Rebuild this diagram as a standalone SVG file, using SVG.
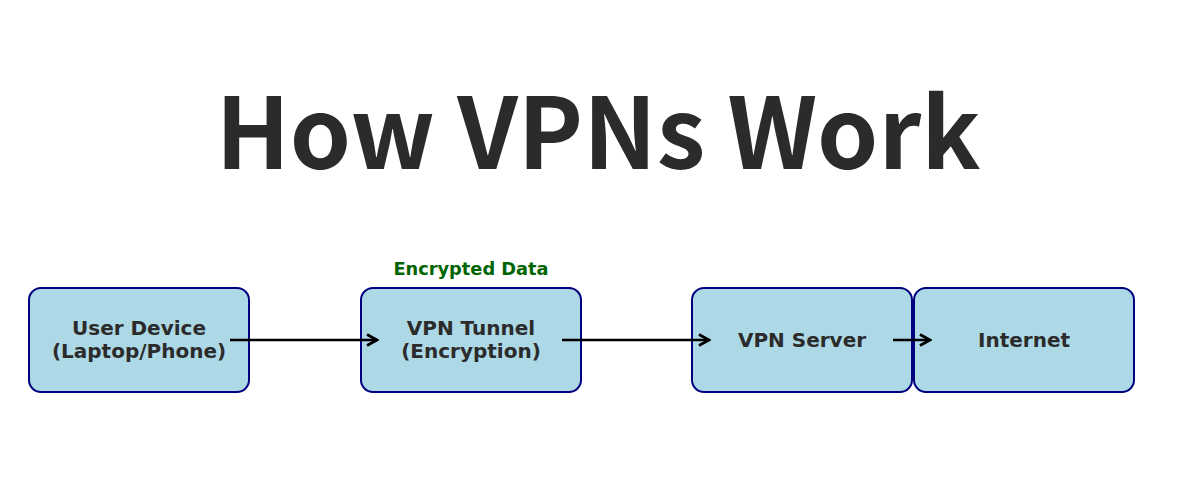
<svg xmlns="http://www.w3.org/2000/svg" width="1200" height="494" viewBox="0 0 1200 494">
<style>
.box{fill:#add8e6;stroke:#000080;stroke-width:2}
.lbl{font-family:"DejaVu Sans",sans-serif;font-weight:bold;font-size:20px;fill:#2b2b2b;text-anchor:middle}
.title{font-family:"Noto Sans CJK JP","Noto Sans",sans-serif;font-weight:bold;font-size:98px;fill:#2b2b2b;text-anchor:middle}
.edge{stroke:#000;stroke-width:2.7;fill:none}
.elbl{font-family:"DejaVu Sans",sans-serif;font-weight:bold;font-size:17.8px;fill:#006400;text-anchor:middle}
</style>
<defs>
<marker id="ah" markerWidth="14" markerHeight="14" refX="12" refY="7" orient="auto" markerUnits="userSpaceOnUse" viewBox="0 0 14 14">
<path d="M2,1.5 L12,7 L2,12.5" fill="none" stroke="#000" stroke-width="2.7"/>
</marker>
</defs>
<rect width="1200" height="494" fill="#fff"/>
<text class="title" x="598" y="169">How VPNs Work</text>
<g id="user-device"><rect class="box" x="29" y="288" width="220" height="104" rx="12"/><text class="lbl" x="139" y="335">User Device</text><text class="lbl" x="139" y="358">(Laptop/Phone)</text></g>
<g id="vpn-tunnel"><rect class="box" x="361" y="288" width="220" height="104" rx="12"/><text class="lbl" x="471" y="335">VPN Tunnel</text><text class="lbl" x="471" y="358">(Encryption)</text></g>
<g id="vpn-server"><rect class="box" x="692" y="288" width="220" height="104" rx="12"/><text class="lbl" x="802" y="347">VPN Server</text></g>
<g id="internet"><rect class="box" x="914" y="288" width="220" height="104" rx="12"/><text class="lbl" x="1024" y="347">Internet</text></g>
<g id="connectors">
<line class="edge" x1="230" y1="340" x2="377" y2="340" marker-end="url(#ah)"/>
<line class="edge" x1="562" y1="340" x2="709" y2="340" marker-end="url(#ah)"/>
<line class="edge" x1="893" y1="340" x2="930" y2="340" marker-end="url(#ah)"/>
<text class="elbl" x="471" y="275">Encrypted Data</text>
</g>
</svg>
